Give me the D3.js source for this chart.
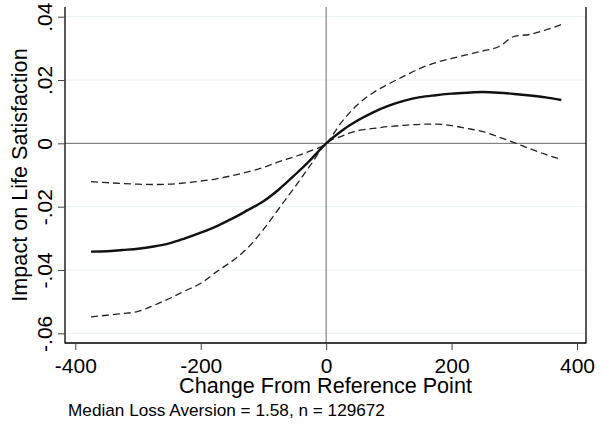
<!DOCTYPE html>
<html>
<head>
<meta charset="utf-8">
<script src="https://cdn.jsdelivr.net/npm/d3@7"></script>
<style>
  html, body { margin: 0; padding: 0; background: #fff; }
  svg { display: block; font-family: "Liberation Sans", Arial, sans-serif; }
</style>
</head>
<body>
<svg id="chart" width="605" height="426"></svg>
<script>
// ---- data ----
const xValues = [-375,-350,-325,-300,-275,-250,-225,-200,-175,-150,-125,-100,-75,-50,-25,0,
                 25,50,75,100,125,150,175,200,225,250,275,300,325,350,375];
const estimate = [-0.0342,-0.0341,-0.0337,-0.0333,-0.0326,-0.0316,-0.0300,-0.0282,-0.0262,-0.0238,-0.0211,-0.0183,-0.0145,-0.0100,-0.0052,0,
                  0.0040,0.0072,0.0098,0.0119,0.0135,0.0146,0.0152,0.0157,0.0160,0.0162,0.0160,0.0156,0.0151,0.0145,0.0137];
const upperCI = [-0.0121,-0.0124,-0.0127,-0.0129,-0.0130,-0.0129,-0.0125,-0.0119,-0.0112,-0.0102,-0.0090,-0.0076,-0.0058,-0.0042,-0.0024,0,
                 0.0068,0.0122,0.0160,0.0188,0.0213,0.0237,0.0255,0.0268,0.0280,0.0292,0.0305,0.0338,0.0344,0.0358,0.0375];
const lowerCI = [-0.0548,-0.0543,-0.0538,-0.0531,-0.0512,-0.0490,-0.0466,-0.0442,-0.0406,-0.0372,-0.0330,-0.0272,-0.0205,-0.0138,-0.0069,0,
                 0.0023,0.0040,0.0047,0.0053,0.0057,0.0060,0.0061,0.0056,0.0047,0.0037,0.0020,0.0002,-0.0017,-0.0035,-0.0051];
const xTicks = [-400,-200,0,200,400];
const xTickLabels = ["-400","-200","0","200","400"];
const yTicks = [-0.06,-0.04,-0.02,0,0.02,0.04];
const yTickLabels = ["-.06","-.04","-.02","0",".02",".04"];
const xTitle = "Change From Reference Point";
const yTitle = "Impact on Life Satisfaction";
const note = "Median Loss Aversion = 1.58, n = 129672";

// ---- layout ----
const svg = d3.select("#chart");
const frame = {left: 65, right: 586, top: 7, bottom: 343};
const x = d3.scaleLinear().domain([-400, 400]).range([75.3, 577]);
const y = d3.scaleLinear().domain([-0.06, 0.04]).range([333.3, 16.7]);

// gridlines
svg.append("g").selectAll("line").data(yTicks).join("line")
  .attr("x1", frame.left).attr("x2", frame.right)
  .attr("y1", d => y(d)).attr("y2", d => y(d))
  .attr("stroke", "#eaf2f3").attr("stroke-width", 1);

// reference lines at 0
svg.append("line")
  .attr("x1", frame.left).attr("x2", frame.right)
  .attr("y1", y(0)).attr("y2", y(0))
  .attr("stroke", "#6b6b6b").attr("stroke-width", 1);
svg.append("line")
  .attr("x1", x(0)).attr("x2", x(0))
  .attr("y1", frame.top).attr("y2", frame.bottom)
  .attr("stroke", "#6b6b6b").attr("stroke-width", 1);

// series
const line = (vals) => d3.line().x((d, i) => x(xValues[i])).y(d => y(d)).curve(d3.curveMonotoneX)(vals);
svg.append("path").attr("d", line(upperCI)).attr("fill", "none")
  .attr("stroke", "#222").attr("stroke-width", 1.3).attr("stroke-dasharray", "7,4");
svg.append("path").attr("d", line(lowerCI)).attr("fill", "none")
  .attr("stroke", "#222").attr("stroke-width", 1.3).attr("stroke-dasharray", "7,4");
svg.append("path").attr("d", line(estimate)).attr("fill", "none")
  .attr("stroke", "#111").attr("stroke-width", 2.4);

// frame lines
svg.append("line").attr("x1", frame.left).attr("x2", frame.left).attr("y1", frame.top).attr("y2", frame.bottom + 0.5)
  .attr("stroke", "#000").attr("stroke-width", 1.3);
svg.append("line").attr("x1", frame.left).attr("x2", frame.right).attr("y1", frame.bottom).attr("y2", frame.bottom)
  .attr("stroke", "#000").attr("stroke-width", 1.3);
svg.append("line").attr("x1", frame.right).attr("x2", frame.right).attr("y1", frame.top).attr("y2", frame.bottom + 0.5)
  .attr("stroke", "#000").attr("stroke-width", 1.3);

// x axis
const xAxis = svg.append("g").attr("transform", `translate(0,${frame.bottom})`)
  .call(d3.axisBottom(x).tickValues(xTicks).tickSize(7).tickSizeOuter(0)
    .tickFormat((d, i) => xTickLabels[i]));
xAxis.select(".domain").remove();
xAxis.selectAll(".tick line").attr("stroke", "#444").attr("stroke-width", 1);
xAxis.selectAll(".tick text").attr("font-size", 21).attr("fill", "#000")
  .attr("font-family", "Liberation Sans, Arial, sans-serif").attr("dy", null).attr("y", 29.5);

// y axis
const yAxis = svg.append("g").attr("transform", `translate(${frame.left},0)`)
  .call(d3.axisLeft(y).tickValues(yTicks).tickSize(7).tickSizeOuter(0)
    .tickFormat((d, i) => yTickLabels[i]));
yAxis.select(".domain").remove();
yAxis.selectAll(".tick line").attr("stroke", "#444").attr("stroke-width", 1);
yAxis.selectAll(".tick text")
  .attr("font-size", 21).attr("fill", "#000")
  .attr("font-family", "Liberation Sans, Arial, sans-serif")
  .attr("x", null).attr("dy", null)
  .attr("text-anchor", "middle")
  .attr("transform", "translate(-13.5,0) rotate(-90)");

// titles
svg.append("text").attr("x", (frame.left + frame.right) / 2).attr("y", 392.5)
  .attr("text-anchor", "middle").attr("font-size", 21.6).attr("fill", "#000").text(xTitle);
svg.append("text").attr("transform", `translate(27,${(frame.top + frame.bottom) / 2}) rotate(-90)`)
  .attr("text-anchor", "middle").attr("font-size", 21.6).attr("fill", "#000").text(yTitle);
svg.append("text").attr("x", 68).attr("y", 416)
  .attr("font-size", 17.2).attr("fill", "#000").text(note);
</script>
</body>
</html>
